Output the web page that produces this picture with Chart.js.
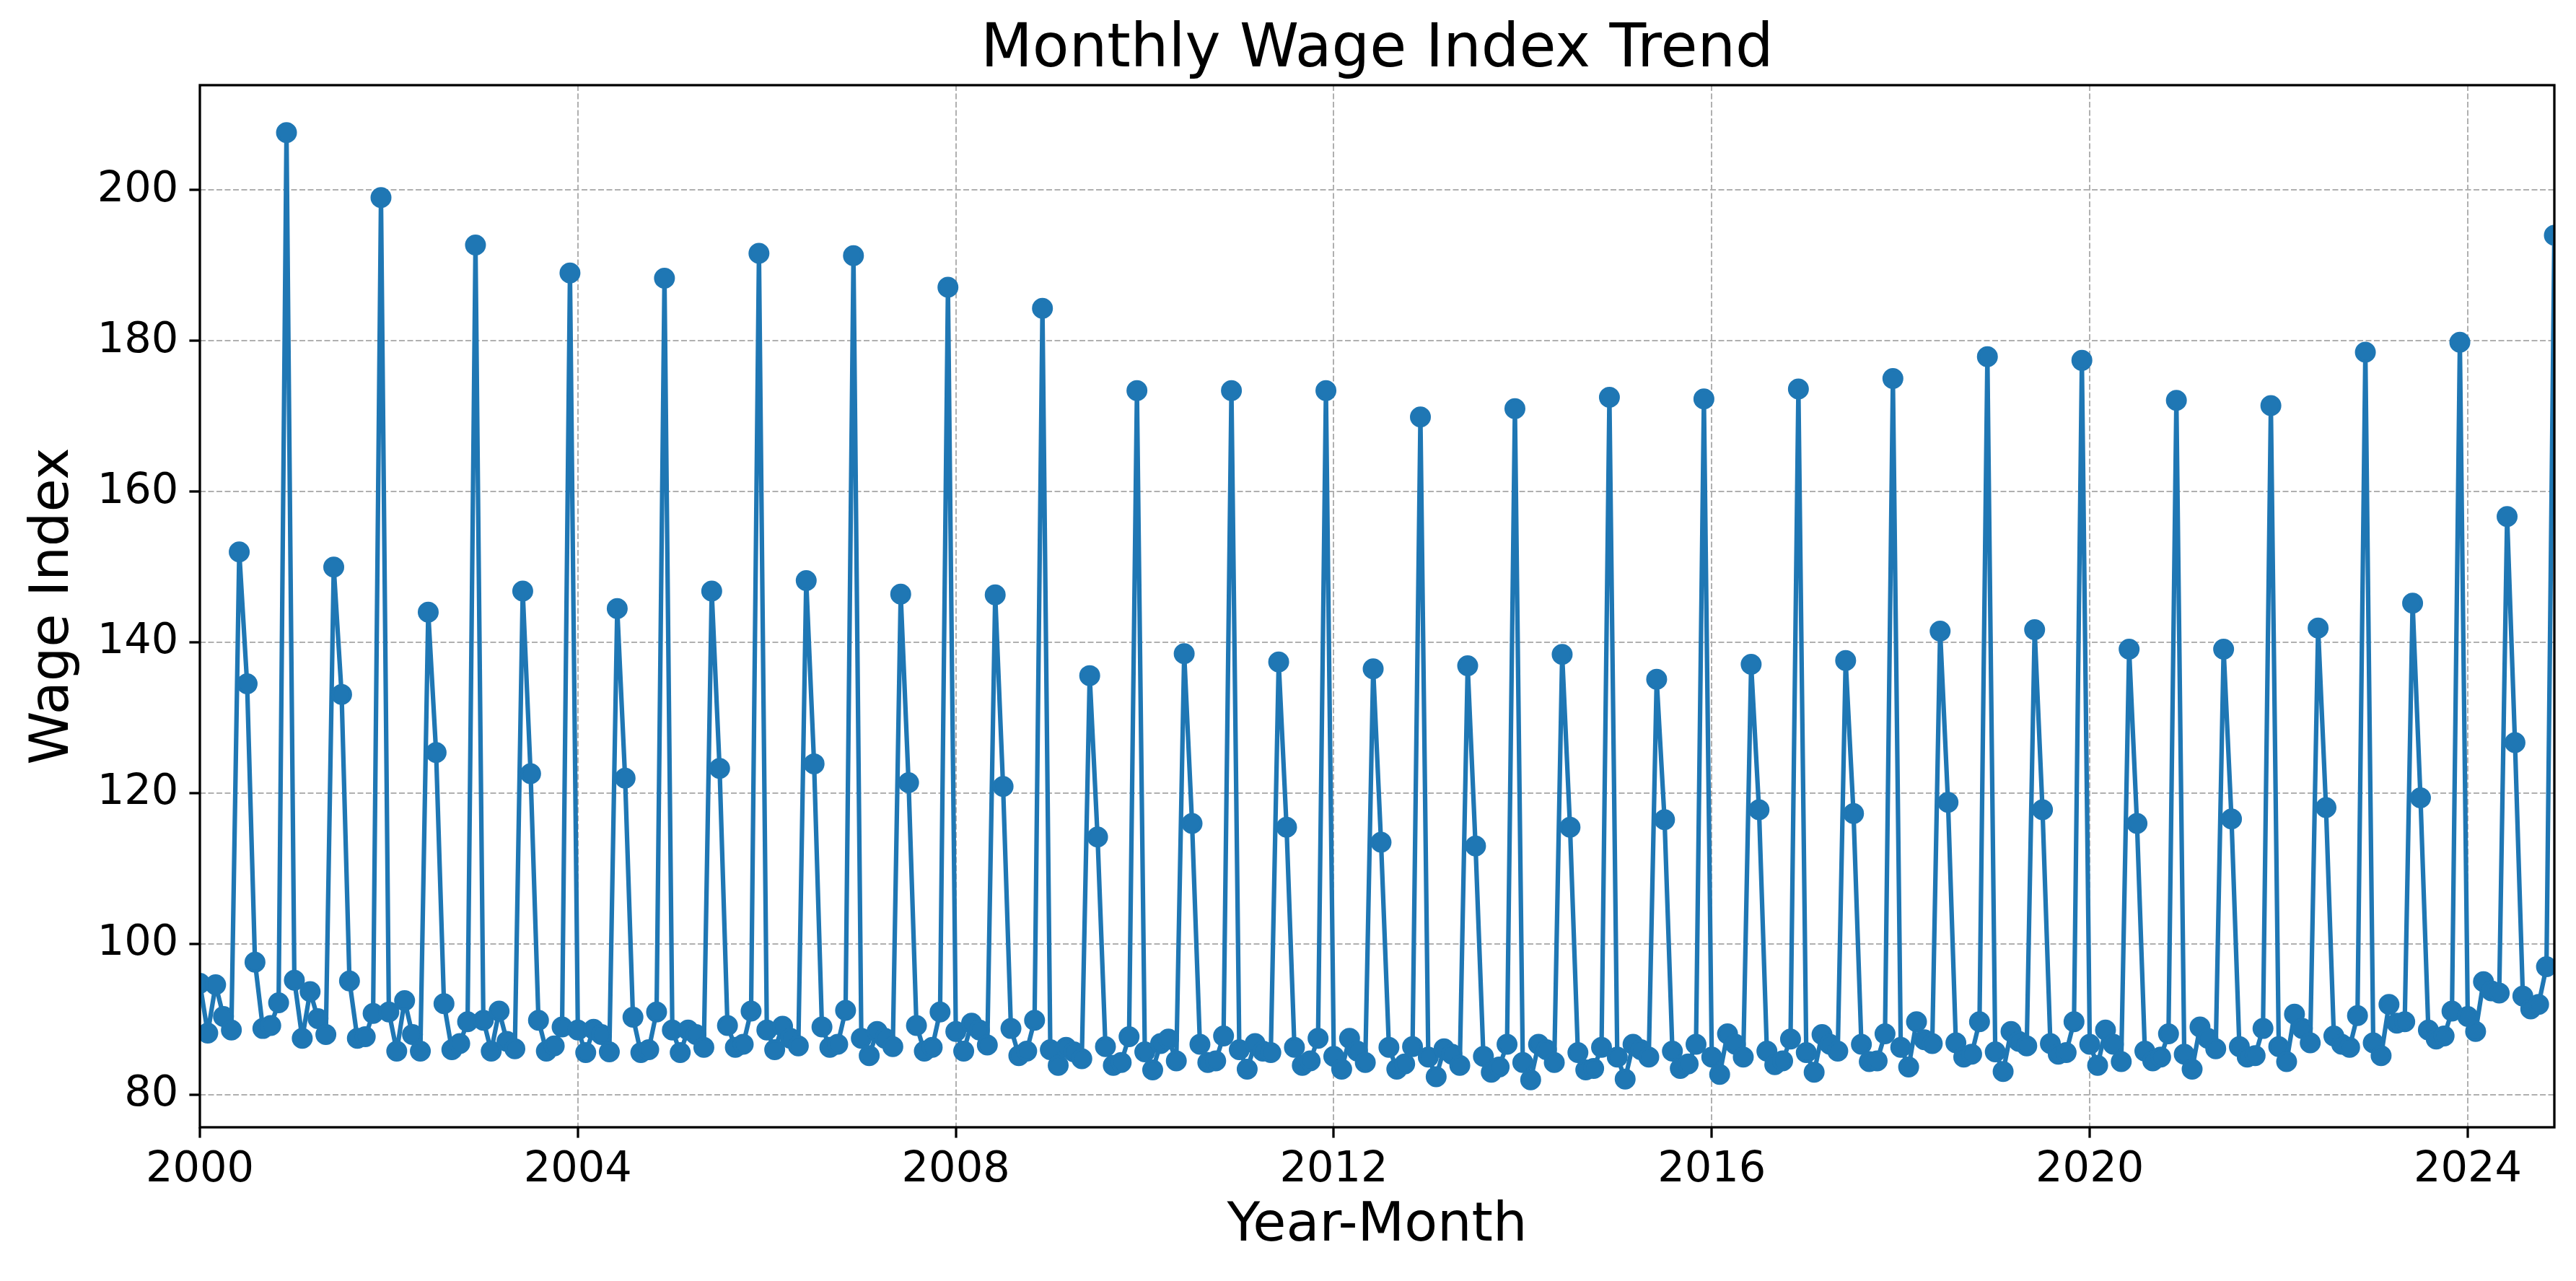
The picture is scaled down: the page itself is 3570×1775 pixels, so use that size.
<!DOCTYPE html>
<html>
<head>
<meta charset="utf-8">
<title>Monthly Wage Index Trend</title>
<script src="https://cdn.jsdelivr.net/npm/chart.js@4.4.1/dist/chart.umd.min.js"></script>
<style>
    html, body { margin: 0; padding: 0; background: #ffffff; }
    #chart-box { width: 3570px; height: 1775px; }
</style>
</head>
<body>
<div id="chart-box"><canvas id="chart-area" width="3570" height="1775"></canvas></div>
<script>
//data, one row per year (jan..dec)
var startYear = 2000;
var wageIndex = [
    94.8, 88.2, 94.6, 90.4, 88.6, 152.0, 134.5, 97.6, 88.8, 89.2, 92.2, 207.6, //2000
    95.2, 87.5, 93.7, 90.1, 88.0, 150.0, 133.1, 95.1, 87.5, 87.7, 90.8, 199.0, //2001
    91.0, 85.8, 92.5, 88.0, 85.8, 144.0, 125.4, 92.1, 86.0, 86.8, 89.7, 192.7, //2002
    89.9, 85.8, 91.1, 87.1, 86.1, 146.8, 122.6, 89.9, 85.8, 86.5, 89.0, 189.0, //2003
    88.6, 85.6, 88.7, 88.0, 85.7, 144.5, 122.0, 90.3, 85.6, 86.0, 91.0, 188.3, //2004
    88.6, 85.6, 88.6, 88.0, 86.3, 146.8, 123.3, 89.2, 86.3, 86.7, 91.1, 191.6, //2005
    88.6, 86.0, 89.1, 87.5, 86.5, 148.2, 123.9, 89.0, 86.3, 86.7, 91.2, 191.3, //2006
    87.5, 85.2, 88.4, 87.5, 86.4, 146.4, 121.4, 89.2, 85.8, 86.3, 91.0, 187.1, //2007
    88.4, 85.8, 89.5, 88.6, 86.6, 146.3, 120.9, 88.8, 85.2, 85.8, 89.9, 184.3, //2008
    86.0, 83.9, 86.3, 85.7, 84.8, 135.6, 114.2, 86.4, 83.9, 84.3, 87.7, 173.4, //2009
    85.7, 83.3, 86.8, 87.4, 84.5, 138.5, 116.0, 86.7, 84.3, 84.5, 87.8, 173.4, //2010
    86.0, 83.4, 86.8, 85.8, 85.6, 137.4, 115.5, 86.3, 83.9, 84.5, 87.5, 173.4, //2011
    85.1, 83.4, 87.5, 85.8, 84.3, 136.5, 113.5, 86.3, 83.4, 84.1, 86.4, 169.9, //2012
    85.0, 82.4, 86.1, 85.4, 83.9, 136.9, 113.0, 85.1, 83.0, 83.7, 86.7, 171.0, //2013
    84.3, 82.0, 86.7, 86.0, 84.3, 138.4, 115.5, 85.6, 83.3, 83.5, 86.3, 172.5, //2014
    85.0, 82.1, 86.7, 86.0, 85.0, 135.1, 116.5, 85.8, 83.5, 84.1, 86.7, 172.3, //2015
    85.0, 82.7, 88.1, 86.7, 85.0, 137.1, 117.8, 85.8, 84.0, 84.5, 87.4, 173.6, //2016
    85.6, 83.0, 88.0, 86.7, 85.8, 137.6, 117.3, 86.7, 84.4, 84.5, 88.1, 175.0, //2017
    86.3, 83.7, 89.7, 87.3, 86.8, 141.5, 118.8, 86.9, 85.0, 85.4, 89.7, 177.9, //2018
    85.7, 83.1, 88.4, 87.1, 86.5, 141.7, 117.8, 86.8, 85.4, 85.6, 89.7, 177.4, //2019
    86.7, 83.9, 88.6, 86.7, 84.4, 139.1, 116.0, 85.8, 84.5, 85.0, 88.1, 172.1, //2020
    85.4, 83.4, 89.0, 87.5, 86.1, 139.1, 116.6, 86.4, 85.0, 85.2, 88.8, 171.4, //2021
    86.4, 84.4, 90.7, 88.8, 86.9, 141.9, 118.1, 87.8, 86.7, 86.3, 90.5, 178.5, //2022
    86.9, 85.2, 92.0, 89.5, 89.7, 145.2, 119.4, 88.6, 87.4, 87.8, 91.1, 179.8, //2023
    90.4, 88.4, 95.0, 93.8, 93.5, 156.7, 126.7, 93.1, 91.4, 92.0, 97.0, 194.0  //2024
];
var xTickYears = [2000, 2004, 2008, 2012, 2016, 2020, 2024];
var yTickValues = [80, 100, 120, 140, 160, 180, 200];

var chartTitle = 'Monthly Wage Index Trend';
var xAxisTitle = 'Year-Month';
var yAxisTitle = 'Wage Index';

var lineColor = '#1f77b4';
var gridColor = '#b0b0b0';
var fontFamily = '"DejaVu Sans", sans-serif';

//month index -> fractional year, so a linear scale can place it
var points = wageIndex.map(function (v, i) {
    return { x: startYear + i / 12, y: v };
});

//matplotlib style box around the plot area + title centered on the plot (not the canvas)
var framePlugin = {
    id: 'frame',
    afterDraw: function (chart) {
        var a = chart.chartArea;
        var ctx = chart.ctx;
        ctx.save();
        ctx.strokeStyle = '#000000';
        ctx.lineWidth = 3.3;
        ctx.strokeRect(a.left, a.top, a.right - a.left, a.bottom - a.top);

        ctx.fillStyle = '#000000';
        ctx.font = '83px ' + fontFamily;
        ctx.textAlign = 'center';
        ctx.textBaseline = 'alphabetic';
        ctx.fillText(chartTitle, (a.left + a.right) / 2, a.top - 26);
        ctx.restore();
    }
};

Chart.defaults.font.family = fontFamily;
Chart.defaults.color = '#000000';

var gridOptions = {
    color: gridColor,
    lineWidth: 2,
    tickColor: '#000000',
    tickWidth: 3.3,
    tickLength: 14.6,
    tickBorderDash: []
};
//in v4 the dash of grid lines sits in border.dash
var borderOptions = { display: false, dash: [8, 3.5] };

var chart = new Chart(document.getElementById('chart-area').getContext('2d'), {
    type: 'line',
    plugins: [framePlugin],
    data: {
        datasets: [{
            data: points,
            borderColor: lineColor,
            backgroundColor: lineColor,
            borderWidth: 6.25,
            borderJoinStyle: 'round',
            pointRadius: 12.5,
            pointBorderWidth: 4,
            pointBackgroundColor: lineColor,
            pointBorderColor: lineColor,
            tension: 0,
            clip: 0
        }]
    },
    options: {
        responsive: false,
        animation: false,
        events: [],
        layout: {
            padding: { left: 0, right: 30, top: 118, bottom: 0 }
        },
        plugins: {
            legend: { display: false },
            tooltip: { enabled: false },
            title: { display: false }
        },
        scales: {
            x: {
                type: 'linear',
                min: startYear,
                max: startYear + (wageIndex.length - 1) / 12,
                afterBuildTicks: function (scale) {
                    scale.ticks = xTickYears.map(function (v) { return { value: v }; });
                },
                afterFit: function (scale) {
                    scale.height = 213;
                },
                ticks: {
                    font: { size: 59 },
                    padding: 10,
                    maxRotation: 0,
                    callback: function (v) { return String(v); }
                },
                grid: gridOptions,
                border: borderOptions,
                title: {
                    display: true,
                    text: xAxisTitle,
                    font: { size: 75 },
                    padding: { top: 0, bottom: 30 }
                }
            },
            y: {
                type: 'linear',
                min: 75.7,
                max: 213.9,
                afterBuildTicks: function (scale) {
                    scale.ticks = yTickValues.map(function (v) { return { value: v }; });
                },
                afterFit: function (scale) {
                    scale.width = 277;
                },
                ticks: {
                    font: { size: 59 },
                    padding: 15,
                    callback: function (v) { return String(v); }
                },
                grid: gridOptions,
                border: borderOptions,
                title: {
                    display: true,
                    text: yAxisTitle,
                    font: { size: 75 },
                    padding: { top: 30, bottom: 0 }
                }
            }
        }
    }
});
</script>
</body>
</html>
